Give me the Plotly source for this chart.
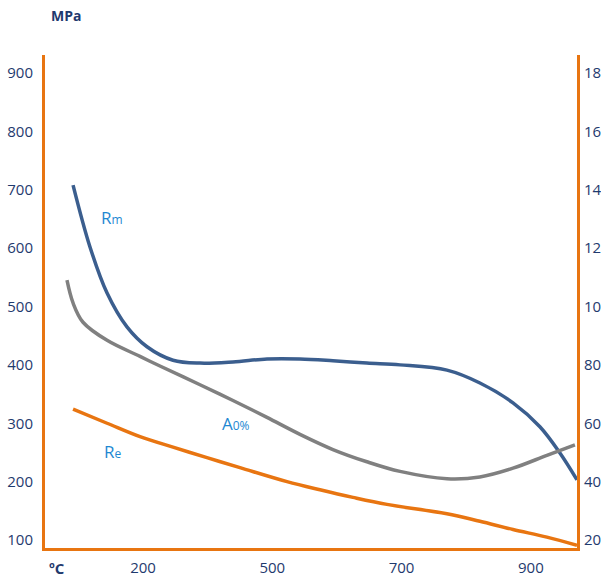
import plotly.graph_objects as go

# Temperature ticks are evenly spaced positions on the axis
temp_pos = [1, 2, 3, 4]
temp_labels = ["200", "500", "700", "900"]

# Tensile strength Rm (MPa)
rm_x = [0.459, 0.590, 0.722, 0.876, 1.031, 1.232, 1.441, 1.696, 1.959, 2.214,
        2.469, 2.732, 2.988, 3.351, 3.606, 3.862, 4.070, 4.225, 4.357]
rm_y = [708, 602, 523, 465, 431, 408, 403, 405, 410, 410,
        407, 403, 400, 391, 369, 335, 294, 249, 203]

# Yield strength Re (MPa)
re_x = [0.459, 0.722, 0.977, 1.232, 1.495, 1.750, 2.114, 2.369, 2.624, 2.887,
        3.351, 3.606, 3.862, 4.124, 4.357]
re_y = [324, 300, 277, 259, 241, 224, 200, 186, 173, 161,
        145, 132, 118, 105, 91]

# Elongation A0% (right axis)
a_x = [0.412, 0.459, 0.536, 0.722, 0.977, 1.131, 1.441, 1.696, 1.959, 2.214,
       2.469, 2.732, 2.988, 3.351, 3.606, 3.862, 4.124, 4.341]
a_y = [109.0, 101.2, 94.6, 88.4, 82.9, 79.6, 73.2, 67.8, 62.0, 56.2,
       51.0, 46.8, 43.5, 41.0, 41.6, 44.6, 49.0, 52.6]

left_ticks = [100, 200, 300, 400, 500, 600, 700, 800, 900]
right_ticks = [20, 40, 60, 80, 100, 120, 140, 160, 180]

ORANGE = "#E87511"
BLUE = "#3B5E8E"
GRAY = "#808080"
NAVY = "#1F3A6E"
LABEL = "#1E88D2"
FONT = "Open Sans"

fig = go.Figure()
line_style = dict(width=3.5, shape="spline", smoothing=1.0)
fig.add_trace(go.Scatter(x=rm_x, y=rm_y, mode="lines", line=dict(color=BLUE, **line_style)))
fig.add_trace(go.Scatter(x=re_x, y=re_y, mode="lines", line=dict(color=ORANGE, **line_style)))
fig.add_trace(go.Scatter(x=a_x, y=a_y, mode="lines", yaxis="y2",
                         line=dict(color=GRAY, **line_style)))

def lbl(main, sub, x, y):
    return dict(x=x, y=y, xref="x", yref="y", showarrow=False,
                text=f"{main}<span style='font-size:12px'>{sub}</span>",
                font=dict(family=FONT, size=17, color=LABEL))

tick_font = dict(family=FONT, size=15, color=NAVY)
fig.update_layout(
    width=601, height=578,
    margin=dict(l=45, r=24, t=55, b=30),
    paper_bgcolor="white", plot_bgcolor="white",
    showlegend=False,
    xaxis=dict(range=[0.242, 4.357], tickvals=temp_pos, ticktext=temp_labels,
               automargin=False, fixedrange=True,
               showgrid=False, zeroline=False, showline=True, linecolor=ORANGE,
               linewidth=3, ticks="outside", ticklen=4, tickcolor="rgba(0,0,0,0)",
               tickfont=tick_font),
    yaxis=dict(range=[86.3, 930.8], tickvals=left_ticks, automargin=False,
               showgrid=False, zeroline=False, showline=True, linecolor=ORANGE,
               linewidth=3, ticks="outside", ticklen=6, tickcolor="rgba(0,0,0,0)",
               tickfont=tick_font),
    yaxis2=dict(range=[17.26, 186.16], tickvals=right_ticks, overlaying="y", side="right",
                automargin=False,
                showgrid=False, zeroline=False, showline=True, linecolor=ORANGE,
                linewidth=3, ticks="outside", ticklen=1, tickcolor="rgba(0,0,0,0)",
                tickfont=tick_font),
    annotations=[
        dict(x=0.039, y=1.081, xref="paper", yref="paper", showarrow=False,
             xanchor="center", yanchor="middle",
             text="<b>MPa</b>", font=dict(family=FONT, size=14, color=NAVY)),
        dict(x=0.0226, y=-0.0406, xref="paper", yref="paper", showarrow=False,
             xanchor="center", yanchor="middle",
             text="<b>ºC</b>", font=dict(family=FONT, size=15, color=NAVY)),
        lbl("R", "m", 0.76, 653),
        lbl("R", "e", 0.77, 251),
        lbl("A", "0%", 1.72, 300),
    ],
)

fig.write_html("out.html")
